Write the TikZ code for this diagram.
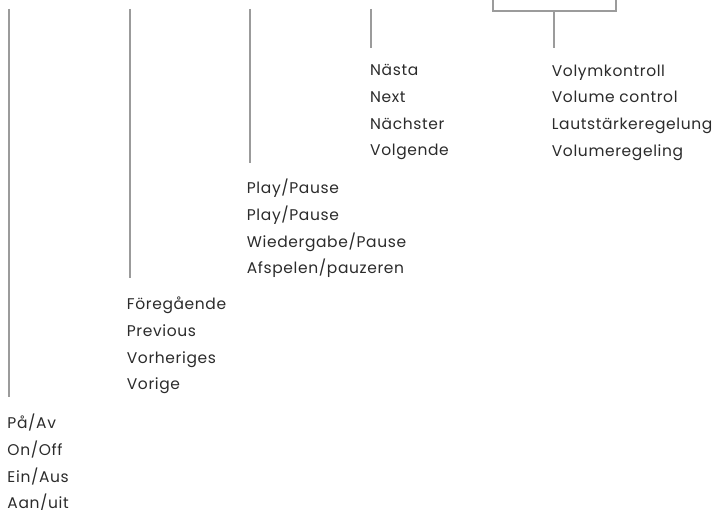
\documentclass[tikz,border=0pt]{standalone}
\usepackage{fontspec}
\setmainfont{Poppins}[LetterSpace=4]
\definecolor{leadgray}{HTML}{9B9B9B}
\definecolor{labelink}{HTML}{2B2B2B}
\tikzset{
  leader/.style={draw=leadgray,line width=2pt},
  callout/.style={anchor=base west,inner sep=0pt,align=left,text=labelink,font=\fontsize{15.5}{26.7}\selectfont}
}

\begin{document}
\begin{tikzpicture}[x=1pt,y=-1pt]
        \useasboundingbox (0,0) rectangle (716,510);
        \clip (0,0) rectangle (716,510);

        %%% Power %%%
        \coordinate (power-top) at (8.5,9);
        \coordinate (power-end) at (8.5,397);
        \node[callout] (power) at (7.3,509) {På/Av\\On/Off\\Ein/Aus\\Aan/uit};
        \draw[leader] (power-top)--(power-end);

        %%% Previous %%%
        \coordinate (prev-top) at (129.5,9);
        \coordinate (prev-end) at (129.5,278);
        \node[callout] (prev) at (126.7,389.8) {Föregående\\Previous\\Vorheriges\\Vorige};
        \draw[leader] (prev-top)--(prev-end);

        %%% Play/Pause %%%
        \coordinate (play-top) at (250,9);
        \coordinate (play-end) at (250,163);
        \node[callout] (play) at (246.7,273.8) {Play/Pause\\Play/Pause\\Wiedergabe/Pause\\Afspelen/pauzeren};
        \draw[leader] (play-top)--(play-end);

        %%% Next %%%
        \coordinate (next-top) at (371,9);
        \coordinate (next-end) at (371,48);
        \node[callout] (next) at (370,155.8) {Nästa\\Next\\Nächster\\Volgende};
        \draw[leader] (next-top)--(next-end);

        %%% Volume %%%
        \coordinate (vol-left) at (492.7,-2);
        \coordinate (vol-right) at (615.7,-2);
        \coordinate (vol-top) at (554,10.7);
        \coordinate (vol-end) at (554,48);
        \node[callout] (vol) at (551.7,156.3) {Volymkontroll\\Volume control\\Lautstärkeregelung\\Volumeregeling};
        \draw[leader] (vol-left)|-(vol-top)-|(vol-right);
        \draw[leader] (vol-top)--(vol-end);
\end{tikzpicture}
\end{document}
